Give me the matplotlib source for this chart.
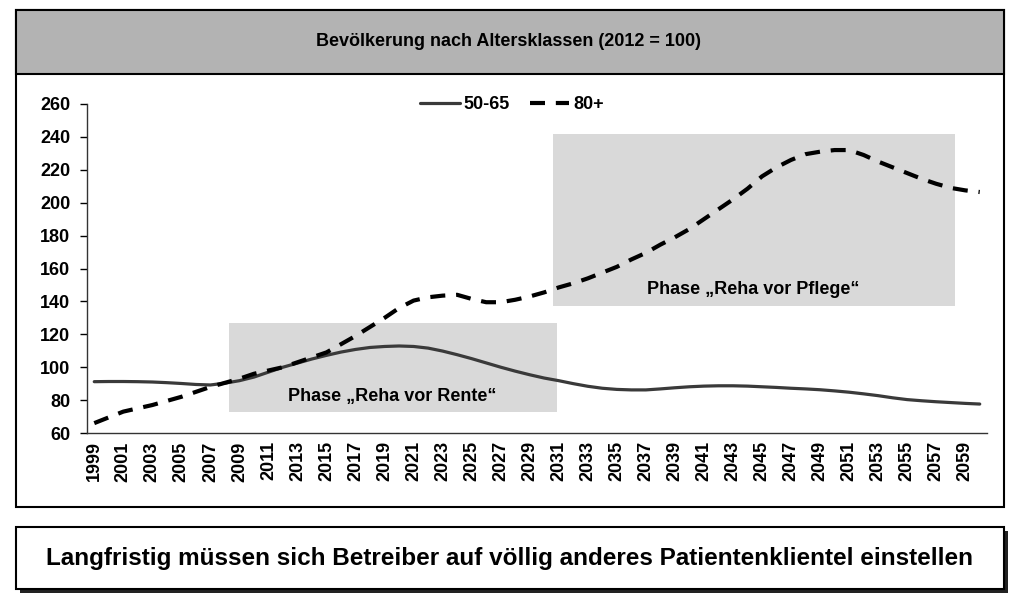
import numpy as np
import matplotlib
matplotlib.use('Agg')
import matplotlib.pyplot as plt
from matplotlib.patches import Rectangle

plt.rcParams['font.family'] = ['Liberation Sans', 'DejaVu Sans']
plt.rcParams['font.weight'] = 'bold'

# ------------------------------------------------------------------
# data (index 2012 = 100)
years = list(range(1999, 2061))

age_50_65 = [91.2, 91.3, 91.3, 91.2, 91.0, 90.6, 90.1, 89.5, 89.2, 90.3,
             91.8, 94.0, 97.0, 100.0, 102.5, 105.0, 107.2, 109.2, 110.8, 112.0,
             112.6, 112.9, 112.6, 111.6, 109.8, 107.6, 105.2, 102.6, 100.0, 97.6,
             95.4, 93.4, 91.8, 90.0, 88.4, 87.2, 86.5, 86.2, 86.2, 86.8,
             87.5, 88.1, 88.5, 88.7, 88.7, 88.5, 88.1, 87.7, 87.2, 86.8,
             86.3, 85.6, 84.8, 83.8, 82.7, 81.4, 80.3, 79.6, 79.0, 78.5,
             78.0, 77.6]

age_80_plus = [66.0, 69.5, 73.0, 75.0, 77.0, 79.5, 82.0, 85.0, 88.0, 90.5,
               93.0, 96.0, 98.0, 100.0, 103.0, 106.0, 109.0, 114.0, 119.0, 124.5,
               130.0, 136.0, 140.5, 142.5, 143.5, 144.0, 141.5, 139.5, 139.5, 141.0,
               143.0, 145.5, 148.5, 151.0, 154.0, 157.5, 161.0, 165.5, 169.5, 174.5,
               179.0, 184.0, 190.0, 196.0, 202.0, 208.5, 216.0, 221.5, 226.0, 229.5,
               231.0, 232.0, 232.0, 229.0, 225.0, 221.5, 218.0, 214.5, 211.5, 209.0,
               207.5, 206.5]

tick_years = list(range(1999, 2061, 2))
y_ticks = list(range(60, 261, 20))

# phases: (start year, end year, low, high, label, label year, label value)
phase_rente = (2008.3, 2030.9, 73, 127, 'Phase \u201eReha vor Rente\u201c', 2019.5, 82)
phase_pflege = (2030.6, 2058.3, 137, 241.6, 'Phase \u201eReha vor Pflege\u201c', 2044.4, 147)

title_str = 'Bev\u00f6lkerung nach Altersklassen (2012 = 100)'
footer_str = 'Langfristig m\u00fcssen sich Betreiber auf v\u00f6llig anderes Patientenklientel einstellen'

# ------------------------------------------------------------------
W, H = 1024, 602
fig = plt.figure(figsize=(W / 100, H / 100), dpi=100)


def px_box(x0, y0, x1, y1):
    # pixel box (top-down) -> figure fraction rectangle args
    return (x0 / W, (H - y1) / H), (x1 - x0) / W, (y1 - y0) / H


# outer chart frame and grey title band
xy, w, h = px_box(16, 10, 1004, 507)
fig.add_artist(Rectangle(xy, w, h, transform=fig.transFigure, facecolor='white',
                         edgecolor='black', lw=1.5, zorder=0))
xy, w, h = px_box(16, 10, 1004, 74)
fig.add_artist(Rectangle(xy, w, h, transform=fig.transFigure, facecolor='#b3b3b3',
                         edgecolor='black', lw=1.5, zorder=1))
fig.text(509 / W, 1 - 42 / H, title_str, ha='center', va='center', fontsize=13,
         fontweight='bold')

# footer box with shadow
xy, w, h = px_box(20, 531, 1008, 593)
fig.add_artist(Rectangle(xy, w, h, transform=fig.transFigure, facecolor='#222222',
                         edgecolor='none', zorder=0))
xy, w, h = px_box(16, 527, 1004, 589)
fig.add_artist(Rectangle(xy, w, h, transform=fig.transFigure, facecolor='white',
                         edgecolor='black', lw=1.5, zorder=1))
fig.text(510 / W, 1 - 558 / H, footer_str, ha='center', va='center', fontsize=17.5,
         fontweight='bold')

# ------------------------------------------------------------------
ax = fig.add_axes([87 / W, (H - 433) / H, 900 / W, 329 / H])
ax.patch.set_alpha(0)

for ph in (phase_rente, phase_pflege):
    x0, x1, lo, hi, lab, lx, ly = ph
    ax.add_patch(Rectangle((x0, lo), x1 - x0, hi - lo, facecolor='#d9d9d9',
                           edgecolor='none', zorder=1))
    ax.text(lx, ly, lab, ha='center', va='center', fontsize=13, fontweight='bold',
            zorder=4)

ax.plot(years, age_50_65, color='#3a3a3a', lw=2.3, label='50-65', zorder=3,
        solid_capstyle='round')
ax.plot(years, age_80_plus, color='black', lw=3.0, dashes=(3.6, 2.6), label='80+',
        zorder=3)

ax.set_xlim(1998.5, 2060.5)
ax.set_ylim(60, 260)
ax.set_xticks(tick_years)
ax.set_xticklabels([str(t) for t in tick_years], rotation=90, fontsize=13,
                   fontweight='bold')
ax.set_yticks(y_ticks)
ax.set_yticklabels([str(t) for t in y_ticks], fontsize=13, fontweight='bold')
ax.tick_params(axis='x', length=0, pad=6)
ax.tick_params(axis='y', length=5, width=1, pad=7, colors='black')

for s in ('top', 'right'):
    ax.spines[s].set_visible(False)
for s in ('left', 'bottom'):
    ax.spines[s].set_linewidth(1.0)
    ax.spines[s].set_color('#333333')

leg = ax.legend(loc='center', bbox_to_anchor=(0.472, 0.997), ncol=2, frameon=False,
                handlelength=2.2, handletextpad=0.2, columnspacing=1.1,
                prop={'weight': 'bold', 'size': 13})

plt.savefig('out.png', dpi=100)
